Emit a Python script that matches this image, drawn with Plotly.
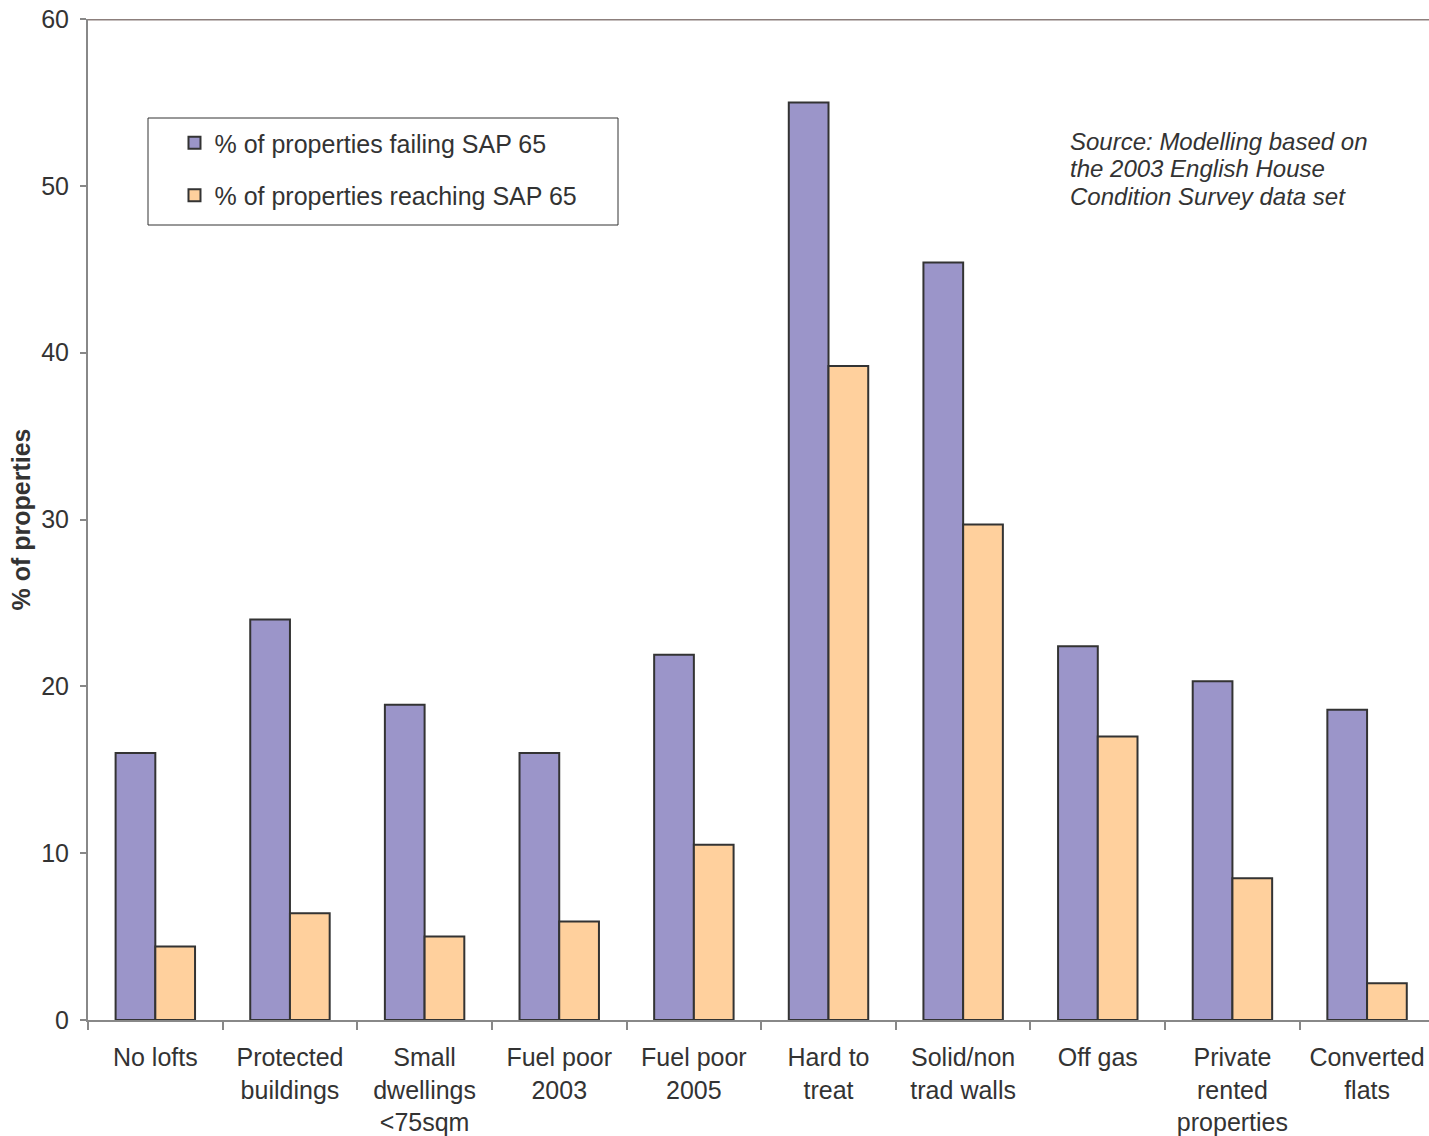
import plotly.graph_objects as go

# Categories of dwelling and the share of properties in each
categories = [
    "No lofts",
    "Protected<br>buildings",
    "Small<br>dwellings<br>&lt;75sqm",
    "Fuel poor<br>2003",
    "Fuel poor<br>2005",
    "Hard to<br>treat",
    "Solid/non<br>trad walls",
    "Off gas",
    "Private<br>rented<br>properties",
    "Converted<br>flats",
]
failing_sap65 = [16.0, 24.0, 18.9, 16.0, 21.9, 55.0, 45.4, 22.4, 20.3, 18.6]
reaching_sap65 = [4.4, 6.4, 5.0, 5.9, 10.5, 39.2, 29.7, 17.0, 8.5, 2.2]

series_names = ["% of properties failing SAP 65", "% of properties reaching SAP 65"]
y_ticks = [0, 10, 20, 30, 40, 50, 60]
source_lines = [
    "Source: Modelling based on",
    "the 2003 English House",
    "Condition Survey data set",
]

FONT = "Liberation Sans, Arial, sans-serif"
TEXT = "#333333"
OUTLINE = "#333333"

fig = go.Figure()
fig.add_trace(go.Bar(
    x=categories, y=failing_sap65, name=series_names[0],
    marker=dict(color="#9B95C9", line=dict(color=OUTLINE, width=2)),
    legendgroup="a",
))
fig.add_trace(go.Bar(
    x=categories, y=reaching_sap65, name=series_names[1],
    marker=dict(color="#FFD09D", line=dict(color=OUTLINE, width=2)),
    legendgroup="b",
))

# source note, one annotation per line for tight line spacing
notes = []
for i, line in enumerate(source_lines):
    notes.append(dict(
        text=f"<i>{line}</i>",
        xref="paper", yref="paper",
        x=(1068 - 88) / 1341, y=(1020 - (141 + 27.5 * i)) / 1001,
        xanchor="left", yanchor="middle", align="left", showarrow=False,
        font=dict(family=FONT, size=24, color=TEXT),
    ))

fig.update_layout(
    width=1429, height=1136,
    margin=dict(l=88, r=0, t=19, b=116),
    paper_bgcolor="white", plot_bgcolor="white",
    font=dict(family=FONT, size=25, color=TEXT),
    barmode="group", bargap=0.41, bargroupgap=0,
    showlegend=True,
    legend=dict(
        x=0.0645, y=0.899, xanchor="left", yanchor="top",
        bgcolor="rgba(0,0,0,0)", borderwidth=0,
        font=dict(family=FONT, size=25, color=TEXT),
        tracegroupgap=17, itemwidth=30,
    ),
    xaxis=dict(
        type="category", tickson="boundaries",
        range=[-0.5, 9.46],
        showline=True, linecolor="#888888", linewidth=2,
        ticks="outside", ticklen=8, tickcolor="#888888", tickwidth=1.5,
        tickfont=dict(family=FONT, size=25, color=TEXT),
        ticklabelstandoff=14,
        showgrid=False, zeroline=False,
    ),
    yaxis=dict(
        range=[0, 60], tickvals=y_ticks,
        showline=True, linecolor="#888888", linewidth=2,
        ticks="outside", ticklen=6, tickcolor="#888888", tickwidth=1.5,
        tickfont=dict(family=FONT, size=25, color=TEXT),
        ticklabelstandoff=6,
        showgrid=False, zeroline=False,
        title=dict(text="<b>% of properties</b>", font=dict(family=FONT, size=25, color=TEXT), standoff=3),
    ),
    shapes=[
        # top border of the plot area
        dict(type="line", xref="paper", yref="y", x0=0, x1=1, y0=60, y1=60,
             line=dict(color="#8C7F7C", width=3)),
        # legend frame
        dict(type="rect", xref="paper", yref="paper",
             x0=(148 - 88) / 1341, x1=(618 - 88) / 1341,
             y0=(1020 - 225) / 1001, y1=(1020 - 118) / 1001,
             line=dict(color="#333333", width=1), fillcolor="rgba(0,0,0,0)"),
    ],
    annotations=notes,
)

fig.write_html("out.html")
